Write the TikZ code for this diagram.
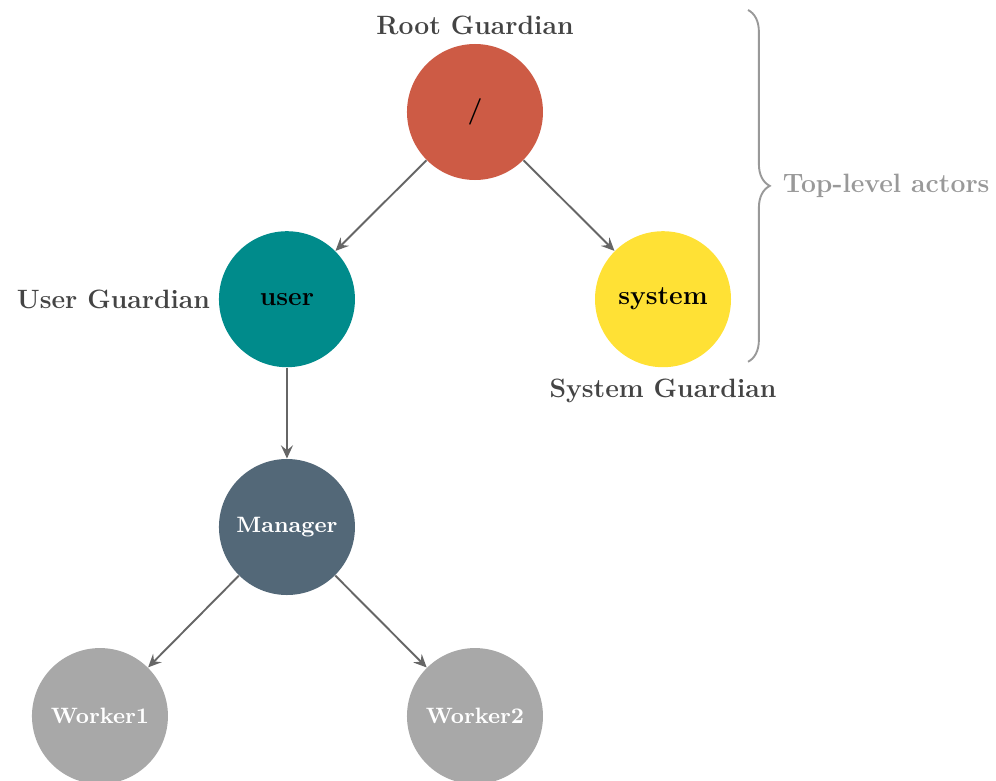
\documentclass[tikz,border=0pt]{standalone}
\usetikzlibrary{decorations.pathreplacing,arrows.meta}
\definecolor{rootred}{HTML}{CD5B45}
\definecolor{userteal}{HTML}{008B8B}
\definecolor{sysyellow}{HTML}{FFE135}
\definecolor{mgrslate}{HTML}{536878}
\definecolor{workgray}{HTML}{A8A8A8}
\definecolor{edgegray}{HTML}{666666}
\definecolor{labelgray}{HTML}{444444}
\definecolor{bracegray}{HTML}{999999}
\newcommand{\labelfont}{\fontsize{11.1}{13}\selectfont\bfseries}
\newcommand{\smallfont}{\fontsize{9.3}{11}\selectfont\bfseries}
\begin{document}
\begin{tikzpicture}
      % Define styles for nodes
      \tikzstyle{actor} = [circle, minimum size=2cm, inner sep=0pt,
      font=\labelfont, text=black]
      \tikzstyle{small actor} = [actor, font=\smallfont, text=white]
      \tikzstyle{guardian} = [text=labelgray, font=\labelfont]
      \tikzstyle{link} = [-{Stealth[length=5.5pt,width=5pt,inset=2pt]},
      thick, edgegray]

      \useasboundingbox (0,0) rectangle (14.647,-11.485);

      % The guardians
      \node[actor, fill=rootred,
      label={[guardian]above:Root Guardian}] (root) at (6.985,-1.647) {/};
      \node[actor, fill=userteal,
      label={[guardian]left:User Guardian}] (user) at (4.22,-4.40) {user};
      \node[actor, fill=sysyellow,
      label={[guardian, label distance=1pt]below:System Guardian}] (system)
      at (9.75,-4.40) {system};

      % Actors below the user guardian
      \node[small actor, fill=mgrslate] (manager) at (4.22,-7.75) {Manager};
      \node[small actor, fill=workgray] (worker1) at (1.47,-10.53) {Worker1};
      \node[small actor, fill=workgray] (worker2) at (6.985,-10.53) {Worker2};

      % Connections
      \draw[link] (root) -- (user);
      \draw[link] (root) -- (system);
      \draw[link] (user) -- (manager);
      \draw[link] (manager) -- (worker1);
      \draw[link] (manager) -- (worker2);

      % Brace at the right
      \coordinate (braceTop) at (11.0,-0.147);
      \coordinate (braceBot) at (11.0,-5.32);
      \draw[thick, bracegray, decorate,
      decoration={brace, amplitude=0.32cm}] (braceTop) -- (braceBot)
      node[midway, right=0.38cm, text=bracegray, font=\labelfont]
      (topLevel) {Top-level actors};

    \end{tikzpicture}
\end{document}
